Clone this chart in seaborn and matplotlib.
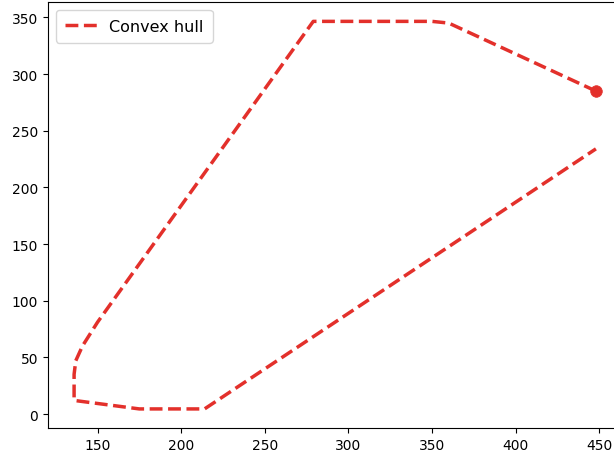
import matplotlib
matplotlib.use("Agg")
import matplotlib.pyplot as plt
import seaborn as sns
import pandas as pd

# Hull vertices in drawing order (open polyline, starting at the marked point)
hull_x = [448, 360, 350, 279, 150, 141, 137, 136, 136, 175, 214, 448]
hull_y = [285, 345, 346.5, 346.5, 81, 60, 47, 35, 12, 4.5, 4.5, 234]
label = "Convex hull"

red = "#e3302b"

df = pd.DataFrame({"x": hull_x, "y": hull_y})

fig = plt.figure(figsize=(6.14, 4.6), dpi=100)
ax = fig.add_axes([48 / 614, 30.7 / 460, 574 / 614, 426.3 / 460])

sns.lineplot(data=df, x="x", y="y", sort=False, estimator=None, ax=ax,
             color=red, linestyle="--", linewidth=2.5, label=label)
sns.scatterplot(x=hull_x[:1], y=hull_y[:1], ax=ax, color=red, s=70,
                edgecolor=red, linewidth=0.5, zorder=3)

ax.set_xlabel("")
ax.set_ylabel("")
ax.set_xticks([150, 200, 250, 300, 350, 400, 450])
ax.set_yticks([0, 50, 100, 150, 200, 250, 300, 350])
ax.legend(loc="upper left", fontsize=11.5, borderpad=0.55)

fig.savefig("out.png", dpi=100)
